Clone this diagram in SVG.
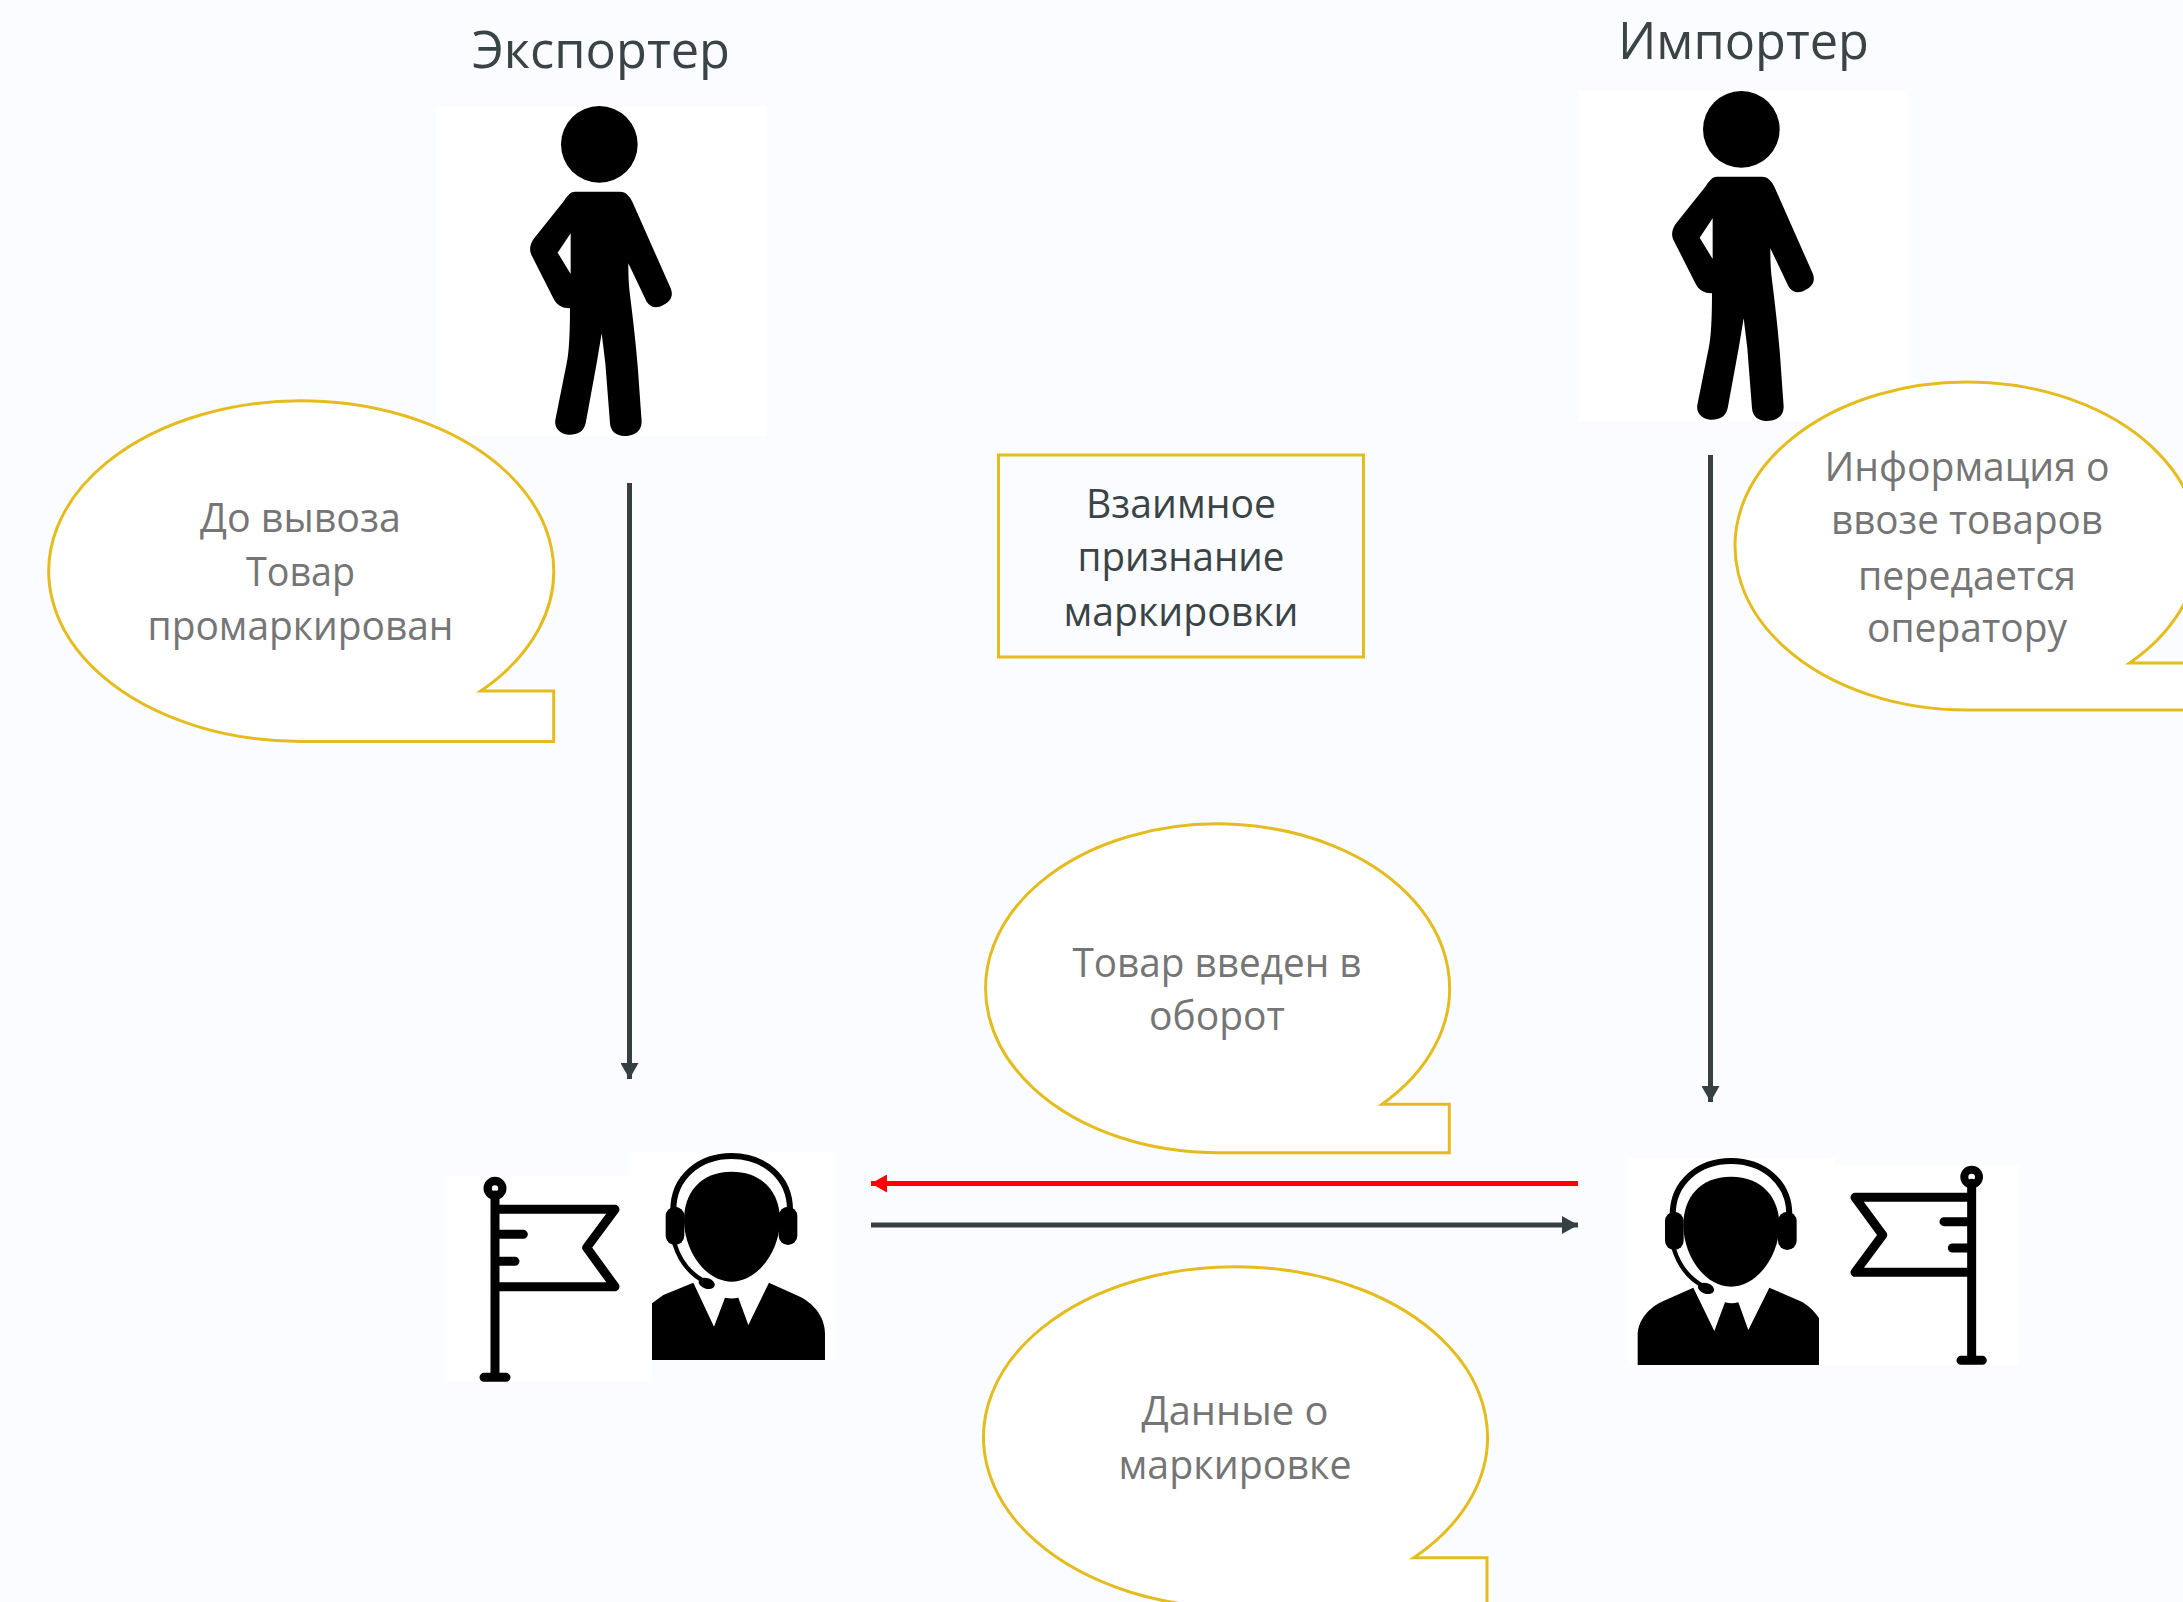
<svg xmlns="http://www.w3.org/2000/svg" xmlns:xlink="http://www.w3.org/1999/xlink" width="2183" height="1602" viewBox="0 0 2183 1602">
<style>
text{font-family:"Open Sans","Noto Sans","Liberation Sans",sans-serif;text-anchor:middle}
.t{font-size:41px;fill:#757575}
.d{font-size:41px;fill:#3a4446}
.h{font-size:52px;fill:#3a4446}
.b{fill:#fff;stroke:#e5bc1f;stroke-width:3}
.n{fill:none;stroke:#e5bc1f;stroke-width:3}
.w{fill:#fff}
.k{fill:#000}
.s{fill:none;stroke:#000;stroke-width:27;stroke-linecap:round;stroke-linejoin:round}
.c{fill:none;stroke:#363f41;stroke-width:5}
.r{fill:none;stroke:#f00;stroke-width:5}
</style>
<defs>
<marker id="ad" markerUnits="userSpaceOnUse" markerWidth="18" markerHeight="18" refX="16" refY="9" orient="auto"><path d="M0,0L16,9L0,18Z" fill="#363f41"/></marker>
<marker id="ar" markerUnits="userSpaceOnUse" markerWidth="18" markerHeight="18" refX="16" refY="9" orient="auto"><path d="M0,0L16,9L0,18Z" fill="#f00"/></marker>
<g id="person" transform="translate(420 0) scale(.33333)">
<rect class="w" x="48" y="318" width="992" height="990"/>
<circle class="k" cx="538" cy="433" r="115"/>
<path class="k" fill-rule="evenodd" d="M465,575H600C618,575 630,590 637,605L752,865C762,888 750,905 730,915C710,927 690,922 680,905L625,790C625,830 626,850 630,885C642,980 650,1060 654,1110L665,1265C665,1295 640,1308 612,1308C590,1308 572,1295 570,1270L556,1090L545,1000L530,1090L497,1270C490,1298 470,1305 445,1304C420,1302 402,1285 406,1260L440,1090C447,1060 450,1000 450,925C425,925 410,915 400,895L337,770C325,750 330,730 345,712L430,605C440,590 450,575 465,575ZM452,700L413,758L452,822Z"/>
</g>
<g id="head">
<path class="k" d="M905,125C1000,125 1050,190 1050,270C1050,360 985,455 905,455C825,455 762,360 762,270C762,190 810,125 905,125Z"/>
<path d="M730,240C730,140 810,78 905,78C1000,78 1080,140 1080,240" fill="none" stroke="#000" stroke-width="18"/>
<rect class="k" x="707" y="230" width="56" height="115" rx="28"/>
<rect class="k" x="1046" y="230" width="56" height="115" rx="28"/>
<path d="M733,340C750,395 785,435 825,455" fill="none" stroke="#000" stroke-width="13"/>
<ellipse class="k" cx="830" cy="460" rx="25" ry="16" transform="rotate(18 830 460)"/>
</g>
</defs>
<rect width="2183" height="1602" fill="#fbfcff"/>

<g id="exporter">
<use xlink:href="#person" href="#person"/>
<text class="h" x="601" y="68" textLength="258" lengthAdjust="spacingAndGlyphs">Экспортер</text>
</g>
<g id="importer">
<g transform="translate(1142 -15)"><use xlink:href="#person" href="#person"/></g>
<text class="h" x="1743.500" y="59" textLength="251" lengthAdjust="spacingAndGlyphs">Импортер</text>
</g>

<g id="flag-left" transform="translate(430 1130) scale(.33333)">
<rect class="w" x="50" y="140" width="616" height="615"/>
<circle cx="195" cy="175" r="22" fill="none" stroke="#000" stroke-width="25"/>
<path class="s" d="M195,195V740M162,742H228M195,238H555L470,353L555,470H195M195,313H280M195,394H255"/>
</g>
<g id="operator-left" transform="translate(430 1130) scale(.33333)">
<rect class="w" x="595" y="68" width="620" height="622"/>
<use xlink:href="#head" href="#head"/>
<path class="k" d="M666,520L700,495L790,458L852,590L885,503Q905,508 925,503L955,585L1017,458L1110,500C1150,520 1185,560 1185,610V690H666Z"/>
</g>
<g id="flag-right" transform="translate(1560 1130) scale(.33333)">
<rect class="w" x="825" y="105" width="550" height="600"/>
<circle cx="1235" cy="141" r="22" fill="none" stroke="#000" stroke-width="24"/>
<path class="s" d="M1235,160V691M1203,691H1267M1235,202H885L968,315L885,427H1235M1235,275H1152M1235,354H1177"/>
</g>
<g id="operator-right" transform="translate(1560 1130) scale(.33333)">
<rect class="w" x="203" y="85" width="622" height="620"/>
<g transform="translate(-392 15)"><use xlink:href="#head" href="#head"/></g>
<path class="k" d="M233,705V615C233,570 270,530 310,513L400,473L463,603L495,517Q515,522 535,517L565,600L628,473L720,513C745,525 765,545 777,565V705Z"/>
</g>

<g id="connectors">
<path class="c" d="M629.500,483V1079" marker-end="url(#ad)"/>
<path class="c" d="M1710.500,455V1102" marker-end="url(#ad)"/>
<path class="r" d="M1578,1183.500H871" marker-end="url(#ar)"/>
<path class="c" d="M871,1225H1578" marker-end="url(#ad)"/>
</g>

<g id="bubble-export">
<path class="b" d="M480.700,691A252.500,170.300 0 1 0 301.200,741.500H553.700V691Z"/>
<text class="t" x="300.500" y="532" textLength="201" lengthAdjust="spacingAndGlyphs">До вывоза</text>
<text class="t" x="300.500" y="586" textLength="109" lengthAdjust="spacingAndGlyphs">Товар</text>
<text class="t" x="300.500" y="640" textLength="306" lengthAdjust="spacingAndGlyphs">промаркирован</text>
</g>
<g id="bubble-import">
<path class="b" d="M2129.600,663A232,164 0 1 0 1967,710H2199V663Z"/>
<text class="t" x="1967" y="481" textLength="285" lengthAdjust="spacingAndGlyphs">Информация о</text>
<text class="t" x="1967" y="534" textLength="272" lengthAdjust="spacingAndGlyphs">ввозе товаров</text>
<text class="t" x="1967" y="590" textLength="218" lengthAdjust="spacingAndGlyphs">передается</text>
<text class="t" x="1967" y="642" textLength="200" lengthAdjust="spacingAndGlyphs">оператору</text>
</g>
<g id="box-recognition">
<rect class="n" x="998.500" y="455" width="365" height="202"/>
<text class="d" x="1181" y="518" textLength="190" lengthAdjust="spacingAndGlyphs">Взаимное</text>
<text class="d" x="1181" y="571" textLength="207" lengthAdjust="spacingAndGlyphs">признание</text>
<text class="d" x="1181" y="626" textLength="235" lengthAdjust="spacingAndGlyphs">маркировки</text>
</g>
<g id="bubble-circulation">
<path class="b" d="M1382,1104.300A232,164.400 0 1 0 1217.500,1152.700H1449.300V1104.300Z"/>
<text class="t" x="1217" y="977" textLength="289" lengthAdjust="spacingAndGlyphs">Товар введен в</text>
<text class="t" x="1217" y="1030" textLength="136" lengthAdjust="spacingAndGlyphs">оборот</text>
</g>
<g id="bubble-data">
<path class="b" d="M1413.800,1557.700A252,170.500 0 1 0 1235.500,1607.700H1487V1557.700Z"/>
<text class="t" x="1235" y="1425" textLength="187" lengthAdjust="spacingAndGlyphs">Данные о</text>
<text class="t" x="1235" y="1479" textLength="233" lengthAdjust="spacingAndGlyphs">маркировке</text>
</g>
</svg>
